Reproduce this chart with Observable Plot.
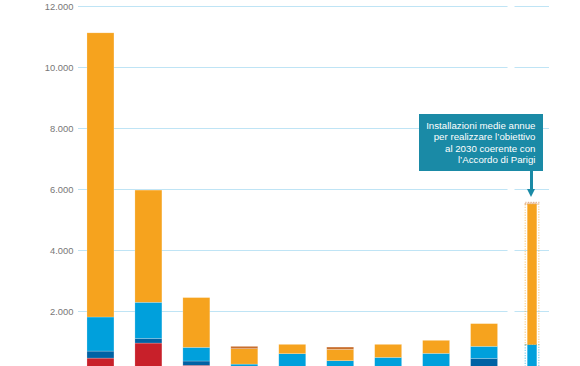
<!DOCTYPE html>
<html>
<head>
<meta charset="utf-8">
<script src="https://cdn.jsdelivr.net/npm/d3@7"></script>
<script src="https://cdn.jsdelivr.net/npm/@observablehq/plot@0.6"></script>
<style>
  html, body { margin: 0; padding: 0; background: #fff; overflow: hidden; width: 580px; height: 366px; }
  #wrap { position: relative; width: 580px; height: 366px; overflow: hidden; font-family: "Liberation Sans", Arial, Helvetica, sans-serif; }
  #wrap svg { display: block; }
  .note {
    position: absolute; left: 419px; top: 114px; width: 124px; height: 57px;
    background: #1a8aa6; color: #fff; box-sizing: border-box;
    padding: 6px 7.5px 0 2px; text-align: right; white-space: nowrap;
    font-size: 9.7px; line-height: 11.4px;
  }
  .shaft { position: absolute; left: 529.5px; top: 171px; width: 3px; height: 20px; background: #1a8aa6; }
  .head { position: absolute; left: 527px; top: 189px; width: 0; height: 0;
    border-left: 4px solid transparent; border-right: 4px solid transparent; border-top: 8px solid #1a8aa6; }
</style>
</head>
<body>
<div id="wrap"></div>
<script>
// Categories (their labels lie below the visible area of the picture)
const categories = ["2011", "2012", "2013", "2014", "2015", "2016", "2017", "2018", "2019", "2021-2030"];
const series = ["Bioenergie", "Idroelettrico", "Eolico", "Fotovoltaico", "Geotermico"];
const seriesColors = ["#c8202a", "#0062a4", "#00a0dc", "#f6a31e", "#c86f2e"];

// Values (MW) per series
const bioenergie    = [456, 949, 220, 30, 40, 50, 50, 60, 150, 0];
const idroelettrico = [230, 154, 140, 60, 60, 70, 80, 100, 297, 0];
const eolico        = [1117, 1183, 448, 169, 500, 251, 349, 451, 394, 897];
const fotovoltaico  = [9317, 3678, 1632, 506, 306, 371, 427, 427, 745, 4607];
const geotermico    = [0, 0, 0, 76, 0, 76, 0, 0, 0, 56];

const yTicks = [0, 2000, 4000, 6000, 8000, 10000, 12000];

const valuesBySeries = [bioenergie, idroelettrico, eolico, fotovoltaico, geotermico];
const rows = [];
categories.forEach((c, i) => {
  series.forEach((s, j) => {
    rows.push({cat: c, series: s, value: valuesBySeries[j][i], target: i === categories.length - 1});
  });
});
const histRows = rows.filter(d => !d.target);
const targetRows = rows.filter(d => d.target);
const targetCat = categories[categories.length - 1];

const itFmt = d3.formatLocale({decimal: ",", thousands: ".", grouping: [3], currency: ["€", ""]}).format(",");

const chart = Plot.plot({
  width: 580,
  height: 402,
  marginTop: 6,
  marginBottom: 30,
  marginLeft: 78,
  marginRight: 31,
  style: {fontFamily: "'Liberation Sans', Arial, Helvetica, sans-serif", background: "#fff"},
  x: {type: "band", domain: categories, paddingInner: 0.4375, paddingOuter: 0.13, align: 0.72, round: false, label: null, axis: null},
  y: {domain: [0, 12000], label: null},
  color: {domain: series, range: seriesColors},
  marks: [
    Plot.gridY(yTicks, {stroke: "#bfe4f5", strokeOpacity: 1, strokeWidth: 1.2}),
    // small break in the grid before the target bar
    Plot.ruleX([targetCat], {stroke: "#fff", strokeWidth: 7, dx: -21.5}),
    Plot.axisY(yTicks, {tickSize: 0, tickPadding: 5, tickFormat: itFmt, fill: "#777", fontSize: 9.4}),
    Plot.barY(histRows, {x: "cat", y: "value", fill: "series", order: series, stroke: "#fff", strokeOpacity: 0.35, strokeWidth: 0.6}),
    // target bar: dotted outline + narrow fill
    Plot.barY(targetRows, {x: "cat", y: "value", fill: "none", stroke: "series", strokeOpacity: 0.45, strokeWidth: 1.3, strokeDasharray: "1.3,1.3", order: series, insetLeft: 6.7, insetRight: 6.7}),
    Plot.barY(targetRows, {x: "cat", y: "value", fill: "series", order: series, insetLeft: 8.8, insetRight: 8.8, fillOpacity: d => d.series === "Geotermico" ? 0.25 : 1})
  ]
});
const wrap = document.getElementById("wrap");
wrap.appendChild(chart);

const note = document.createElement("div");
note.className = "note";
note.innerHTML = "Installazioni medie annue<br>per realizzare l’obiettivo<br>al 2030 coerente con<br>l’Accordo di Parigi";
wrap.appendChild(note);
const shaft = document.createElement("div"); shaft.className = "shaft"; wrap.appendChild(shaft);
const head = document.createElement("div"); head.className = "head"; wrap.appendChild(head);
</script>
</body>
</html>
